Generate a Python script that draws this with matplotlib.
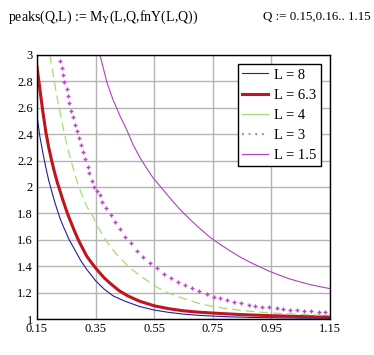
import matplotlib
matplotlib.use('Agg')
import matplotlib.pyplot as plt
from matplotlib.lines import Line2D

plt.rcParams['font.family'] = ['Liberation Serif', 'DejaVu Serif']
plt.rcParams['mathtext.fontset'] = 'custom'
plt.rcParams['mathtext.rm'] = 'Liberation Serif'

# L = 8
q_8 = [0.15, 0.16, 0.17, 0.18, 0.19, 0.20, 0.21, 0.22, 0.23, 0.24, 0.26, 0.28, 0.30,
       0.32, 0.35, 0.38, 0.41, 0.45, 0.50, 0.55, 0.60, 0.65, 0.70, 0.80, 0.90, 1.0, 1.15]
v_8 = [2.54, 2.38, 2.26, 2.15, 2.05, 1.97, 1.89, 1.82, 1.755, 1.70, 1.60, 1.52, 1.44,
       1.375, 1.29, 1.225, 1.175, 1.135, 1.095, 1.068, 1.05, 1.037, 1.028, 1.017, 1.011,
       1.008, 1.005]
# L = 6.3
q_63 = [0.15, 0.16, 0.17, 0.18, 0.19, 0.20, 0.21, 0.22, 0.23, 0.24, 0.25, 0.26, 0.27,
        0.28, 0.29, 0.30, 0.32, 0.34, 0.36, 0.38, 0.40, 0.43, 0.46, 0.50, 0.55, 0.60,
        0.65, 0.70, 0.75, 0.85, 0.95, 1.05, 1.15]
v_63 = [2.91, 2.74, 2.57, 2.42, 2.30, 2.20, 2.11, 2.03, 1.96, 1.89, 1.825, 1.765, 1.71,
        1.655, 1.605, 1.56, 1.475, 1.415, 1.36, 1.31, 1.27, 1.215, 1.175, 1.135, 1.10,
        1.078, 1.062, 1.052, 1.045, 1.033, 1.025, 1.019, 1.015]
# L = 4
q_4 = [0.194, 0.20, 0.21, 0.22, 0.23, 0.24, 0.25, 0.26, 0.27, 0.28, 0.29, 0.30, 0.32,
       0.34, 0.36, 0.38, 0.40, 0.42, 0.45, 0.48, 0.52, 0.56, 0.60, 0.65, 0.70, 0.75,
       0.80, 0.85, 0.90, 0.95, 1.0, 1.05, 1.10, 1.15]
v_4 = [3.0, 2.92, 2.79, 2.66, 2.55, 2.44, 2.34, 2.25, 2.17, 2.09, 2.02, 1.96, 1.85,
       1.78, 1.69, 1.615, 1.55, 1.495, 1.425, 1.365, 1.30, 1.24, 1.195, 1.155, 1.12, 1.095,
       1.078, 1.065, 1.054, 1.046, 1.040, 1.035, 1.031, 1.028]
# L = 3 (marker positions)
q_3 = [0.2285, 0.2353, 0.2377, 0.2422, 0.2514, 0.2568, 0.2602, 0.2660, 0.2729, 0.2797,
       0.2865, 0.2934, 0.3002, 0.3070, 0.3138, 0.3241, 0.3275, 0.3377, 0.3445, 0.3548,
       0.3650, 0.3718, 0.3855, 0.4026, 0.4162, 0.4333, 0.4503, 0.4708, 0.4913, 0.5118,
       0.5357, 0.5596, 0.5834, 0.6073, 0.6312, 0.6551, 0.6790, 0.7029, 0.7302, 0.7541,
       0.7746, 0.7985, 0.8224, 0.8462, 0.8735, 0.8940, 0.9179, 0.9418, 0.9691, 0.9896,
       1.0135, 1.0374, 1.0613, 1.0852, 1.1125, 1.1329]
v_3 = [2.955, 2.902, 2.848, 2.795, 2.742, 2.689, 2.636, 2.576, 2.530, 2.470,
       2.424, 2.371, 2.318, 2.265, 2.212, 2.152, 2.106, 2.045, 2.000, 1.970,
       1.939, 1.886, 1.841, 1.788, 1.735, 1.682, 1.621, 1.576, 1.515, 1.470,
       1.424, 1.386, 1.341, 1.311, 1.280, 1.258, 1.235, 1.212, 1.189, 1.167,
       1.159, 1.144, 1.129, 1.121, 1.106, 1.098, 1.091, 1.091, 1.083, 1.076,
       1.068, 1.068, 1.061, 1.061, 1.053, 1.053]
# L = 1.5
q_15 = [0.365, 0.389, 0.409, 0.433, 0.457, 0.478, 0.502, 0.525, 0.546, 0.58, 0.61,
        0.638, 0.672, 0.706, 0.74, 0.775, 0.81, 0.843, 0.877, 0.91, 0.945, 0.98,
        1.01, 1.05, 1.08, 1.116, 1.15]
v_15 = [3.0, 2.79, 2.665, 2.54, 2.43, 2.32, 2.22, 2.14, 2.07, 1.98, 1.90,
        1.83, 1.755, 1.685, 1.62, 1.565, 1.515, 1.47, 1.43, 1.395, 1.36, 1.33,
        1.305, 1.28, 1.262, 1.245, 1.23]

labels = ['L = 8', 'L = 6.3', 'L = 4', 'L = 3', 'L = 1.5']
x_ticks = [0.15, 0.35, 0.55, 0.75, 0.95, 1.15]
y_ticks = [1, 1.2, 1.4, 1.6, 1.8, 2, 2.2, 2.4, 2.6, 2.8, 3]

c_blue, c_red, c_green, c_mag, c_pur = '#1e1e9e', '#c0141e', '#a0e070', '#c040d0', '#b040c0'

fig = plt.figure(figsize=(3.74, 3.55), dpi=100)
ax = fig.add_axes([0.0989, 0.1014, 0.7834, 0.7437])

ax.plot(q_8, v_8, color=c_blue, lw=0.8)
ax.plot(q_63, v_63, color=c_red, lw=2.2)
ax.plot(q_4, v_4, color=c_green, lw=0.9, ls=(0, (7, 4)))
ax.plot(q_3, v_3, color=c_mag, ls='none', marker='+', ms=3.5, mew=1.0)
ax.plot(q_15, v_15, color=c_pur, lw=0.8)

ax.set_xlim(0.15, 1.15)
ax.set_ylim(1, 3)
ax.set_xticks(x_ticks)
ax.set_xticklabels(['%g' % t for t in x_ticks])
ax.set_yticks(y_ticks)
ax.set_yticklabels(['%g' % t for t in y_ticks])
ax.tick_params(length=0, labelsize=9, pad=3)
ax.grid(True, color='#b4b4b4', lw=1)
ax.set_axisbelow(True)
for s in ax.spines.values():
    s.set_color('black')
    s.set_linewidth(1)

handles = [Line2D([], [], color=c_blue, lw=0.8),
           Line2D([], [], color=c_red, lw=2.2),
           Line2D([], [], color=c_green, lw=0.9),
           Line2D([], [], color=c_mag, lw=1.2, ls=(0, (1, 3))),
           Line2D([], [], color=c_pur, lw=0.8)]
leg = ax.legend(handles, labels, loc='upper right', bbox_to_anchor=(0.969, 0.966),
                fontsize=10.5, fancybox=False, framealpha=1, edgecolor='black',
                borderaxespad=0, handlelength=1.8, handletextpad=0.4,
                labelspacing=0.47, borderpad=0.3)
leg.get_frame().set_linewidth(1)

fig.text(8 / 374, 1 - 17 / 355, r'peaks(Q,L) := M$_{\rm Y}$(L,Q,fnY(L,Q))',
         fontsize=10, va='center', ha='left')
fig.text(263 / 374, 1 - 17 / 355, 'Q := 0.15,0.16.. 1.15',
         fontsize=9.4, va='center', ha='left')

fig.savefig('out.png', dpi=100)
